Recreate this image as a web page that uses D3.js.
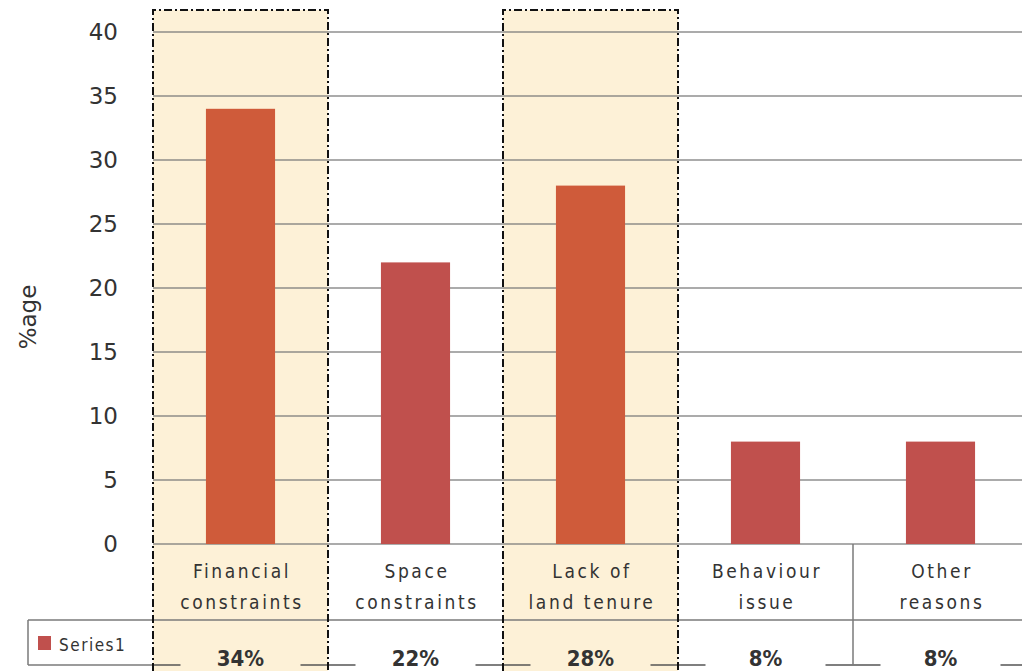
<!DOCTYPE html>
<html>
<head>
<meta charset="utf-8">
<script src="https://cdn.jsdelivr.net/npm/d3@7"></script>
<style>
  body { margin: 0; background: #fff; }
  svg { display: block; }
</style>
</head>
<body>
<div id="chart"></div>
<script>
var categories = [["Financial", "constraints"], ["Space", "constraints"], ["Lack of", "land tenure"], ["Behaviour", "issue"], ["Other", "reasons"]];
var values = [34, 22, 28, 8, 8];
var valueLabels = ["34%", "22%", "28%", "8%", "8%"];
var highlighted = [true, false, true, false, false];
var yTicks = [0, 5, 10, 15, 20, 25, 30, 35, 40];
var seriesName = "Series1";

var w = 1022, h = 671;
var plotLeft = 153, plotRight = 1028, plotTop = 32, plotBase = 544;
var rowLine = 620, tableBottom = 665;

var svg = d3.select("#chart").append("svg").attr("width", w).attr("height", h);

var keys = categories.map(function (d, i) { return i; });
var xCol = d3.scaleBand().domain(keys).range([plotLeft, plotRight]).padding(0);
var xBar = d3.scaleBand().domain(keys).range([plotLeft, plotRight]).paddingInner(0.605).paddingOuter(0.3025);
var y = d3.scaleLinear().domain([0, 40]).range([plotBase, plotTop]);

var dash = "8,3,2,3";

// highlighted columns background
svg.selectAll("rect.hl")
  .data(keys.filter(function (i) { return highlighted[i]; }))
  .enter().append("rect")
  .attr("x", function (i) { return xCol(i); })
  .attr("y", 10)
  .attr("width", xCol.bandwidth())
  .attr("height", h)
  .style("fill", "#fdf1d7");

// gridlines
svg.selectAll("line.grid")
  .data(yTicks)
  .enter().append("line")
  .attr("x1", plotLeft).attr("x2", w)
  .attr("y1", function (d) { return y(d); })
  .attr("y2", function (d) { return y(d); })
  .style("stroke", "#7a7a7a")
  .style("stroke-opacity", 0.85)
  .style("stroke-width", 1.5);

// y tick labels
svg.selectAll("text.ytick")
  .data(yTicks)
  .enter().append("text")
  .text(function (d) { return d; })
  .attr("x", 118)
  .attr("y", function (d) { return y(d) + 8; })
  .style("text-anchor", "end")
  .style("font-family", "DejaVu Sans, sans-serif")
  .style("font-size", "23px")
  .style("fill", "#333");

svg.append("text")
  .text("%age")
  .attr("transform", "translate(36," + (y(20) + 29) + ") rotate(-90)")
  .style("text-anchor", "middle")
  .style("font-family", "DejaVu Sans, sans-serif")
  .style("font-size", "23px")
  .style("fill", "#333");

// bars
svg.selectAll("rect.bar")
  .data(values)
  .enter().append("rect")
  .attr("x", function (d, i) { return xBar(i); })
  .attr("y", function (d) { return y(d); })
  .attr("width", xBar.bandwidth())
  .attr("height", function (d) { return plotBase - y(d); })
  .style("fill", function (d, i) { return highlighted[i] ? "#cf5b3a" : "#c0504d"; });

// table lines
svg.append("line")
  .attr("x1", 28).attr("x2", w).attr("y1", rowLine).attr("y2", rowLine)
  .style("stroke", "#7a7a7a").style("stroke-width", 1.5);
svg.append("line")
  .attr("x1", 28).attr("x2", 28).attr("y1", rowLine).attr("y2", tableBottom)
  .style("stroke", "#7a7a7a").style("stroke-width", 1.5);
svg.append("line")
  .attr("x1", 28).attr("x2", plotLeft).attr("y1", tableBottom).attr("y2", tableBottom)
  .style("stroke", "#7a7a7a").style("stroke-width", 1.5);

// bottom border, broken around the value labels
keys.forEach(function (i) {
  var c = xCol(i) + xCol.bandwidth() / 2;
  [[xCol(i), c - 60], [c + 60, xCol(i) + xCol.bandwidth()]].forEach(function (s) {
    svg.append("line")
      .attr("x1", s[0]).attr("x2", s[1])
      .attr("y1", tableBottom).attr("y2", tableBottom)
      .style("stroke", "#555").style("stroke-width", 1.5);
  });
});

// plain vertical divider between non-highlighted columns
keys.forEach(function (i) {
  if (i > 0 && !highlighted[i] && !highlighted[i - 1]) {
    svg.append("line")
      .attr("x1", xCol(i)).attr("x2", xCol(i))
      .attr("y1", plotBase).attr("y2", tableBottom)
      .style("stroke", "#7a7a7a").style("stroke-width", 1.5);
  }
});

// dash-dot boxes around highlighted columns
keys.filter(function (i) { return highlighted[i]; }).forEach(function (i) {
  var x0 = xCol(i), x1 = xCol(i) + xCol.bandwidth();
  svg.append("path")
    .attr("d", "M" + x0 + "," + h + "V10H" + x1 + "V" + h)
    .style("fill", "none")
    .style("stroke", "#111")
    .style("stroke-width", 2)
    .style("stroke-dasharray", dash);
});

// category labels
var cat = svg.selectAll("text.cat")
  .data(categories)
  .enter().append("text")
  .attr("x", function (d, i) { return xCol(i) + xCol.bandwidth() / 2 + 1.5; })
  .attr("y", 578)
  .style("text-anchor", "middle")
  .style("font-family", "DejaVu Sans Condensed, DejaVu Sans, sans-serif")
  .style("font-size", "19px")
  .style("letter-spacing", "2.6px")
  .style("fill", "#333");
cat.append("tspan").text(function (d) { return d[0]; });
cat.append("tspan")
  .attr("x", function (d, i) { return xCol(i) + xCol.bandwidth() / 2 + 1.5; })
  .attr("dy", 31)
  .text(function (d) { return d[1]; });

// value labels
svg.selectAll("text.val")
  .data(valueLabels)
  .enter().append("text")
  .text(function (d) { return d; })
  .attr("x", function (d, i) { return xCol(i) + xCol.bandwidth() / 2; })
  .attr("y", 666)
  .style("text-anchor", "middle")
  .style("font-family", "DejaVu Sans Condensed, DejaVu Sans, sans-serif")
  .style("font-weight", "bold")
  .style("font-size", "22px")
  .style("fill", "#333");

// legend
svg.append("rect")
  .attr("x", 38).attr("y", 636).attr("width", 13).attr("height", 14)
  .style("fill", "#c0504d");
svg.append("text")
  .text(seriesName)
  .attr("x", 59).attr("y", 651)
  .style("font-family", "DejaVu Sans Condensed, DejaVu Sans, sans-serif")
  .style("font-size", "17px")
  .style("letter-spacing", "1.5px")
  .style("fill", "#333");
</script>
</body>
</html>
